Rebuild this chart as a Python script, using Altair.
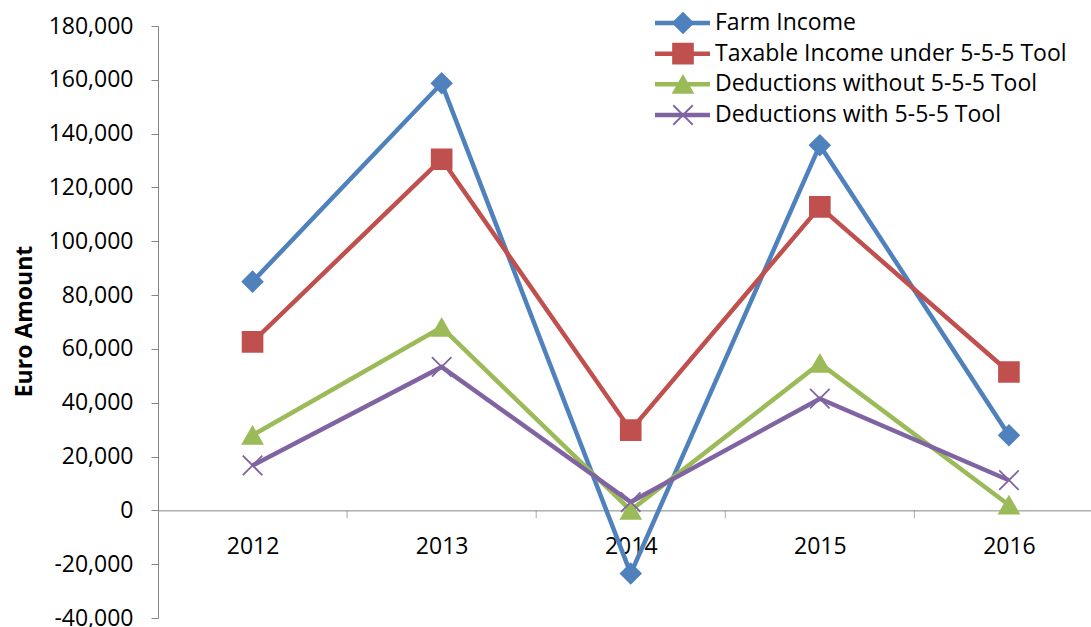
import altair as alt
import pandas as pd

# ---- data ----------------------------------------------------------------
years = [2012, 2013, 2014, 2015, 2016]
series_names = [
    "Farm Income",
    "Taxable Income under 5-5-5 Tool",
    "Deductions without 5-5-5 Tool",
    "Deductions with 5-5-5 Tool",
]
farm_income = [85000, 158700, -23500, 135700, 27900]
taxable_income = [62600, 130500, 29800, 112800, 51400]
deductions_without = [27900, 68000, 0, 54600, 2000]
deductions_with = [16700, 53300, 3100, 41500, 11200]

y_tick_values = list(range(-40000, 180001, 20000))
category_bounds = [2012.5, 2013.5, 2014.5, 2015.5]

# ---- styling ---------------------------------------------------------------
series_colors = ["#4F81BD", "#C0504D", "#9BBB59", "#8064A2"]
marker_shapes = ["diamond", "square", "triangle-up", "M-1,-1L1,1M-1,1L1,-1"]
marker_sizes = [400, 380, 420, 330]
axis_grey = "#868686"
font = "Open Sans"

plot_w, plot_h = 933, 592
y_min, y_max = -40000, 180000
x_min, x_max = 2011.5, 2016.434

rows = []
for name, vals in zip(series_names,
                      [farm_income, taxable_income, deductions_without, deductions_with]):
    for yr, v in zip(years, vals):
        rows.append({"series": name, "year": yr, "value": v})
df = pd.DataFrame(rows)
legend_df = pd.DataFrame({"series": series_names})
bounds_df = pd.DataFrame({"year": category_bounds, "level": [0] * len(category_bounds)})

x_scale = alt.Scale(domain=[x_min, x_max], nice=False, zero=False)
y_scale = alt.Scale(domain=[y_min, y_max], nice=False, zero=False)
color_scale = alt.Scale(domain=series_names, range=series_colors)
shape_scale = alt.Scale(domain=series_names, range=marker_shapes)
size_scale = alt.Scale(domain=series_names, range=marker_sizes)

# pixel offset that lifts the category axis up to the zero line
zero_offset = -plot_h * (0 - y_min) / (y_max - y_min)

x_axis = alt.Axis(
    values=years, format="d", title=None, grid=False,
    ticks=False, tickSize=0, labelPadding=36, labelBaseline="middle",
    offset=zero_offset, domainColor=axis_grey, domainWidth=1,
    labelFontSize=23, labelColor="black", labelFont=font,
)
y_axis = alt.Axis(
    values=y_tick_values, format=",d", grid=False,
    labelExpr="replace(datum.label, '\u2212', '-')",
    tickSize=7, tickColor=axis_grey, domainColor=axis_grey,
    labelPadding=18, labelFontSize=23, labelColor="black", labelFont=font,
    title="Euro Amount", titleFontSize=23, titleFontWeight="bold",
    titleColor="black", titleFont=font, titleAngle=270,
    titleX=-134, titleY=295, titleAlign="center", titleBaseline="middle",
)

base = alt.Chart(df)

lines = base.mark_line(strokeWidth=4.5).encode(
    x=alt.X("year:Q", scale=x_scale, axis=x_axis),
    y=alt.Y("value:Q", scale=y_scale, axis=y_axis),
    color=alt.Color("series:N", scale=color_scale, legend=None),
    detail="series:N",
)

points = base.mark_point(filled=True, opacity=1, strokeWidth=1.8).encode(
    x=alt.X("year:Q", scale=x_scale),
    y=alt.Y("value:Q", scale=y_scale, axis=None),
    fill=alt.Fill("series:N", scale=color_scale, legend=None),
    stroke=alt.Stroke("series:N", scale=color_scale, legend=None),
    shape=alt.Shape("series:N", scale=shape_scale, legend=None),
    size=alt.Size("series:N", scale=size_scale, legend=None),
)

# tick marks between the categories, hanging below the zero line
cat_ticks = alt.Chart(bounds_df).mark_tick(
    orient="vertical", size=8, thickness=1, color=axis_grey, yOffset=4
).encode(
    x=alt.X("year:Q", scale=x_scale),
    y=alt.Y("level:Q", scale=y_scale, axis=None),
)

# legend drawn in the upper right of the plot
legend_y = alt.Y("series:N", scale=alt.Scale(domain=series_names, range=[-3, 89],
                                              type="point", padding=0), axis=None)
legend_base = alt.Chart(legend_df)
legend_lines = legend_base.mark_rule(strokeWidth=4.5).encode(
    x=alt.value(497), x2=alt.value(552), y=legend_y,
    color=alt.Color("series:N", scale=color_scale, legend=None),
)
legend_marks = legend_base.mark_point(filled=True, opacity=1, strokeWidth=1.8).encode(
    x=alt.value(525), y=legend_y,
    fill=alt.Fill("series:N", scale=color_scale, legend=None),
    stroke=alt.Stroke("series:N", scale=color_scale, legend=None),
    shape=alt.Shape("series:N", scale=shape_scale, legend=None),
    size=alt.Size("series:N", scale=size_scale, legend=None),
)
legend_text = legend_base.mark_text(
    align="left", baseline="middle", font=font, fontSize=23, color="black"
).encode(x=alt.value(557), y=legend_y, text="series:N")

chart = alt.layer(
    cat_ticks, lines, points, legend_lines, legend_marks, legend_text
).resolve_scale(
    y="independent"
).properties(
    width=plot_w, height=plot_h,
    autosize=alt.AutoSizeParams(type="none"),
    padding={"left": 158, "top": 26, "right": 0, "bottom": 9},
    background="white",
).configure_view(stroke=None)

chart.save("out.html", embed_options={"renderer": "svg", "actions": False})
